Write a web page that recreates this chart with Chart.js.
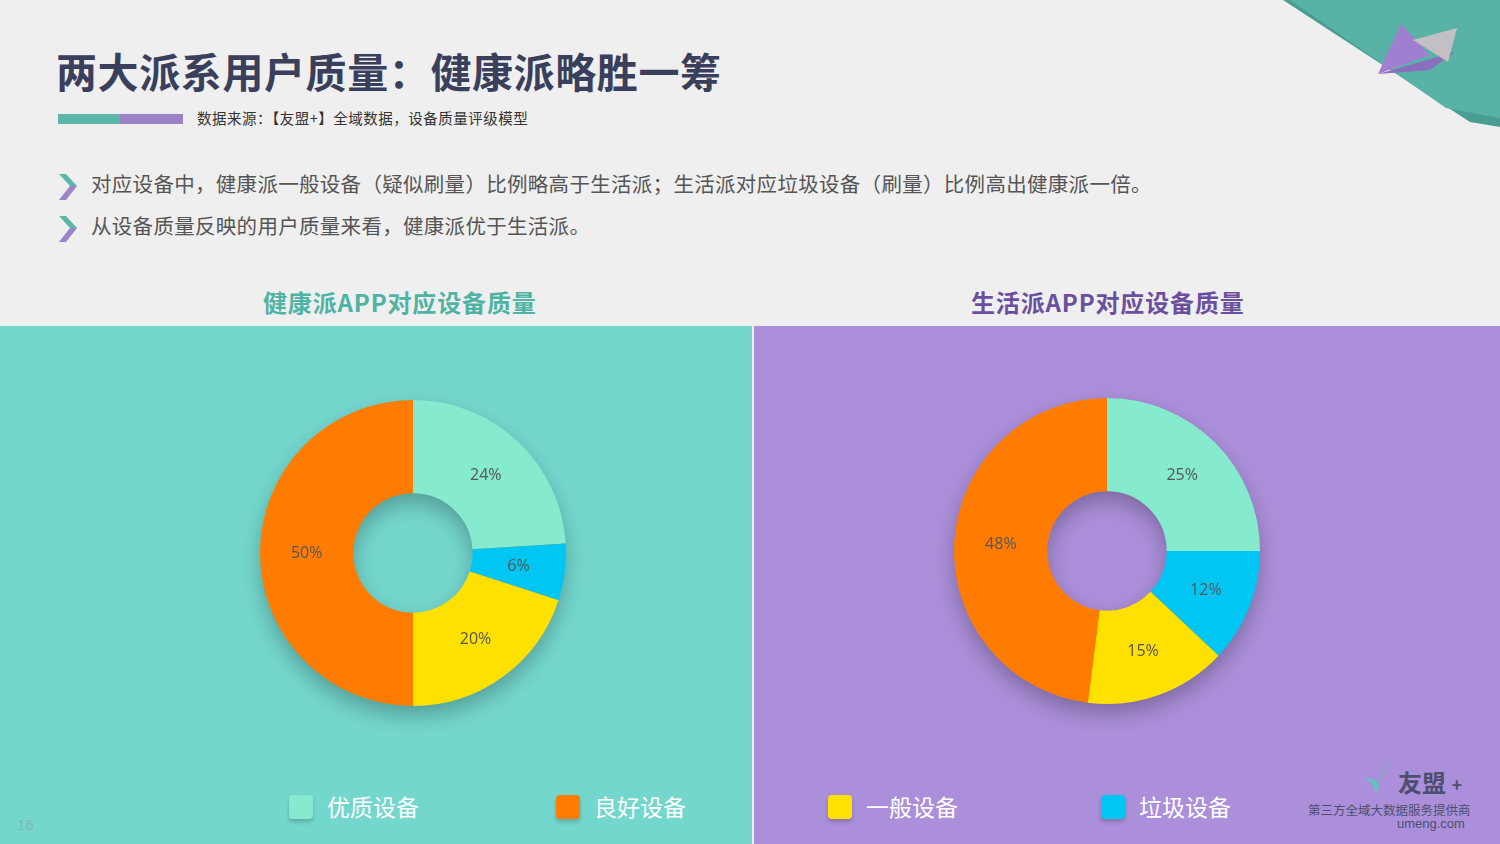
<!DOCTYPE html>
<html>
<head>
<meta charset="utf-8">
<script src="https://cdn.jsdelivr.net/npm/chart.js@4"></script>
<style>
  body { margin: 0; width: 1500px; height: 844px; overflow: hidden; background: #efefef; position: relative; font-family: "Noto Sans CJK SC", "Noto Sans", sans-serif; }
  .abs { position: absolute; }
  #title { left: 56px; top: 40px; font-size: 41px; font-weight: 700; color: #3a3f5c; letter-spacing: 0.6px; white-space: nowrap; }
  #bar1 { left: 58px; top: 114px; width: 62px; height: 10px; background: #5cb6aa; }
  #bar2 { left: 120px; top: 114px; width: 63px; height: 10px; background: #9c83c6; }
  #source { left: 197px; top: 107px; font-size: 14.5px; color: #333; letter-spacing: 0.5px; white-space: nowrap; }
  .bullet { left: 57px; font-size: 20.5px; color: #555; letter-spacing: 0.3px; white-space: nowrap; }
  .bullet svg { position: absolute; left: 0; top: 2px; }
  .bullet span { position: absolute; left: 34px; top: -2px; }
  .ctitle { top: 284px; font-size: 24px; font-weight: 700; letter-spacing: 0.85px; white-space: nowrap; }
  #panelL { left: 0; top: 326px; width: 752px; height: 518px; background: #74d7ce; }
  #panelR { left: 754px; top: 326px; width: 746px; height: 518px; background: #ab8fda; }
  .chartbox { width: 360px; height: 360px; }
  .lg { top: 793px; height: 28px; font-size: 23px; color: #fff; white-space: nowrap; }
  .lg i { position: absolute; left: 0; top: 2px; width: 24px; height: 24px; border-radius: 4px; box-shadow: 0 3px 4px rgba(0,0,0,0.2); }
  .lg span { position: absolute; left: 38px; top: -4px; }
  #page { left: 17px; top: 816px; font-size: 15px; color: #7fb8b1; font-family: "Liberation Sans", sans-serif; }
</style>
</head>
<body>
<svg class="abs" style="left:0;top:0" width="1500" height="140">
  <polygon points="1283,0 1500,0 1500,127 1470,122" fill="#4a9d91"/>
  <polygon points="1290,0 1500,0 1500,118 1446,108" fill="#58b3a6"/>
  <polygon points="1378,74 1401,24 1430,55" fill="#a07fd0"/>
  <polygon points="1378,74 1455,52 1430,70" fill="#8c6ebe"/>
  <polygon points="1413,40 1457,28 1448,62" fill="#c2c0c4"/>
</svg>
<div id="title" class="abs">两大派系用户质量：健康派略胜一筹</div>
<div id="bar1" class="abs"></div><div id="bar2" class="abs"></div>
<div id="source" class="abs">数据来源：【友盟+】全域数据，设备质量评级模型</div>
<div class="abs bullet" style="top:170px">
  <svg width="22" height="30"><polygon points="2,2 9,2 20,14 13,14" fill="#5cb6aa"/><polygon points="13,14 20,14 9,28 2,28" fill="#9c83c6"/></svg>
  <span>对应设备中，健康派一般设备（疑似刷量）比例略高于生活派；生活派对应垃圾设备（刷量）比例高出健康派一倍。</span>
</div>
<div class="abs bullet" style="top:212px">
  <svg width="22" height="30"><polygon points="2,2 9,2 20,14 13,14" fill="#5cb6aa"/><polygon points="13,14 20,14 9,28 2,28" fill="#9c83c6"/></svg>
  <span>从设备质量反映的用户质量来看，健康派优于生活派。</span>
</div>
<div class="abs ctitle" style="left:263px;color:#4fb3a4">健康派APP对应设备质量</div>
<div class="abs ctitle" style="left:971px;color:#6b4f9f">生活派APP对应设备质量</div>
<div id="panelL" class="abs"></div>
<div id="panelR" class="abs"></div>
<div class="abs chartbox" style="left:233px;top:373px"><canvas id="chartL"></canvas></div>
<div class="abs chartbox" style="left:927px;top:371px"><canvas id="chartR"></canvas></div>
<div id="legend"></div>
<div id="page" class="abs">16</div>
<div class="abs" style="left:1398px;top:764px;font-size:24px;font-weight:700;color:#4d4f6e">友盟 <span style="font-size:18px">+</span></div>
<svg class="abs" style="left:1362px;top:758px" width="36" height="40"><path d="M30,2 C22,10 18,22 14,36 C12,26 8,22 2,20 C10,20 14,22 16,26 C20,14 24,6 30,2 Z" fill="#5cc6b8"/></svg>
<div class="abs" style="left:1308px;top:800px;font-size:12.5px;color:#4d4f6e;white-space:nowrap">第三方全域大数据服务提供商</div>
<div class="abs" style="left:1397px;top:816px;font-size:13px;color:#4d4f6e;font-family:'Liberation Sans',sans-serif">umeng.com</div>
<script>
// slice order, clockwise from 12 o'clock
var categories = ['优质设备', '垃圾设备', '一般设备', '良好设备'];
var healthValues = [24, 6, 20, 50];
var lifeValues = [25, 12, 15, 48];
var sliceColors = ['#86eacf', '#00c6f3', '#ffe100', '#ff7c00'];
var legendOrder = ['优质设备', '良好设备', '一般设备', '垃圾设备'];
var legendX = [289, 556, 828, 1101];

var ringShadow = {
  id: 'ringShadow',
  beforeDatasetsDraw: function(chart) {
    var arc = chart.getDatasetMeta(0).data[0];
    if (!arc) return;
    var ctx = chart.ctx;
    ctx.save();
    ctx.shadowColor = 'rgba(0,0,0,0.28)';
    ctx.shadowBlur = 22;
    ctx.shadowOffsetY = 10;
    ctx.beginPath();
    ctx.arc(arc.x, arc.y, arc.outerRadius - 1, 0, Math.PI * 2);
    ctx.arc(arc.x, arc.y, arc.innerRadius + 1, 0, Math.PI * 2, true);
    ctx.fillStyle = '#ff7c00';
    ctx.fill();
    ctx.restore();
  }
};

var sliceLabels = {
  id: 'sliceLabels',
  afterDatasetsDraw: function(chart) {
    var ctx = chart.ctx;
    var values = chart.data.datasets[0].data;
    ctx.save();
    ctx.font = '16px "Open Sans", sans-serif';
    ctx.fillStyle = '#555';
    ctx.textAlign = 'center';
    ctx.textBaseline = 'middle';
    chart.getDatasetMeta(0).data.forEach(function(arc, i) {
      var p = arc.tooltipPosition();
      ctx.fillText(values[i] + '%', p.x, p.y);
    });
    ctx.restore();
  }
};

function makeChart(id, values) {
  return new Chart(document.getElementById(id), {
    type: 'doughnut',
    data: {
      labels: categories,
      datasets: [{
        data: values,
        backgroundColor: sliceColors,
        borderWidth: 0
      }]
    },
    options: {
      responsive: true,
      maintainAspectRatio: false,
      animation: false,
      cutout: '39%',
      layout: { padding: 27 },
      plugins: {
        legend: { display: false },
        tooltip: { enabled: false }
      }
    },
    plugins: [ringShadow, sliceLabels]
  });
}

makeChart('chartL', healthValues);
makeChart('chartR', lifeValues);

var legendBox = document.getElementById('legend');
for (var i = 0; i < legendOrder.length; i++) {
  var item = document.createElement('div');
  item.className = 'abs lg';
  item.style.left = legendX[i] + 'px';
  var sw = document.createElement('i');
  sw.style.background = sliceColors[categories.indexOf(legendOrder[i])];
  var tx = document.createElement('span');
  tx.textContent = legendOrder[i];
  item.appendChild(sw);
  item.appendChild(tx);
  legendBox.appendChild(item);
}
</script>
</body>
</html>
